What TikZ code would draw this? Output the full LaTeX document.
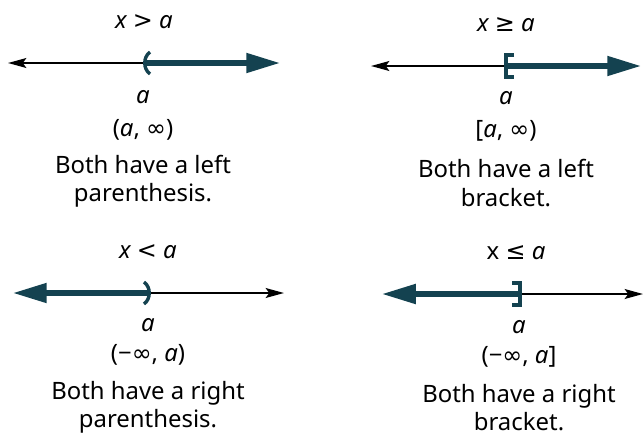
\documentclass[tikz,border=0pt]{standalone}
\usepackage{fontspec}
\setmainfont{Noto Sans}
\newfontfamily\symfont{DejaVu Sans}
\usetikzlibrary{arrows.meta,positioning}
\definecolor{rayteal}{RGB}{20,66,80}
\newcommand{\sym}[1]{{\symfont #1}}
\tikzset{
  thinray/.style={line width=1.5pt, black, -{Stealth[length=13pt,width=7pt,inset=2.5pt]}},
  thickray/.style={line width=3.6pt, rayteal, -{Triangle[length=24pt,width=13.5pt]}},
  endmark/.style={line width=2.4pt, rayteal},
  lbl/.style={font=\fontsize{17}{20}\selectfont, inner sep=0pt},
  note/.style={lbl, align=center}
}

\begin{document}
\begin{tikzpicture}[x=0.025cm, y=-0.025cm]
    \useasboundingbox (0,0) rectangle (644,435);

    % x > a
    \begin{scope}[shift={(146,63)}]
        \coordinate (p1) at (0,0);
        \coordinate (l1) at (-138,0);
        \coordinate (r1) at (134,0);
        \draw[thinray] (p1) -- (l1);
        \draw[thickray] (p1) -- (r1);
        % open end: left parenthesis
        \draw[endmark] (4,-11) .. controls (-3,-6) and (-3,6) .. (4,11);
        \node[lbl] (t1) at (-2,-41) {{\itshape x} \sym{>} {\itshape a}};
        \node[lbl] (a1) at (-3,34) {\itshape a};
        \node[lbl] (i1) at (-3,67) {({\itshape a}, \sym{∞})};
        \node[note] (n1) at (-3,118) {Both have a left\\parenthesis.};
    \end{scope}

    % x >= a
    \begin{scope}[shift={(506,66)}]
        \coordinate (p2) at (0,0);
        \coordinate (l2) at (-135,0);
        \coordinate (r2) at (135,0);
        \draw[thinray] (p2) -- (l2);
        \draw[thickray] (p2) -- (r2);
        % closed end: left bracket
        \draw[endmark] (8,-11) -- (0,-11) -- (0,11) -- (8,11);
        \node[lbl] (t2) at (0,-41) {{\itshape x} \sym{≥} {\itshape a}};
        \node[lbl] (a2) at (0,32) {\itshape a};
        \node[lbl] (i2) at (0,65) {[{\itshape a}, \sym{∞})};
        \node[note] (n2) at (0,117) {Both have a left\\bracket.};
    \end{scope}

    % x < a
    \begin{scope}[shift={(148,293)}]
        \coordinate (p3) at (0,0);
        \coordinate (l3) at (-135,0);
        \coordinate (r3) at (136,0);
        \draw[thinray] (p3) -- (r3);
        \draw[thickray] (p3) -- (l3);
        % open end: right parenthesis
        \draw[endmark] (-4,-11) .. controls (3,-6) and (3,6) .. (-4,11);
        \node[lbl] (t3) at (0,-41) {{\itshape x} \sym{<} {\itshape a}};
        \node[lbl] (a3) at (0,32) {\itshape a};
        \node[lbl] (i3) at (0,62) {(−\sym{∞}, {\itshape a})};
        \node[note] (n3) at (0,114) {Both have a right\\parenthesis.};
    \end{scope}

    % x <= a
    \begin{scope}[shift={(519,294)}]
        \coordinate (p4) at (0,0);
        \coordinate (l4) at (-137,0);
        \coordinate (r4) at (124,0);
        \draw[thinray] (p4) -- (r4);
        \draw[thickray] (p4) -- (l4);
        % closed end: right bracket
        \draw[endmark] (-7,-11) -- (1,-11) -- (1,11) -- (-7,11);
        \node[lbl] (t4) at (-3,-41) {x \sym{≤} {\itshape a}};
        \node[lbl] (a4) at (0,33) {\itshape a};
        \node[lbl] (i4) at (0,63) {(−\sym{∞}, {\itshape a}]};
        \node[note] (n4) at (0,114) {Both have a right\\bracket.};
    \end{scope}
\end{tikzpicture}
\end{document}
